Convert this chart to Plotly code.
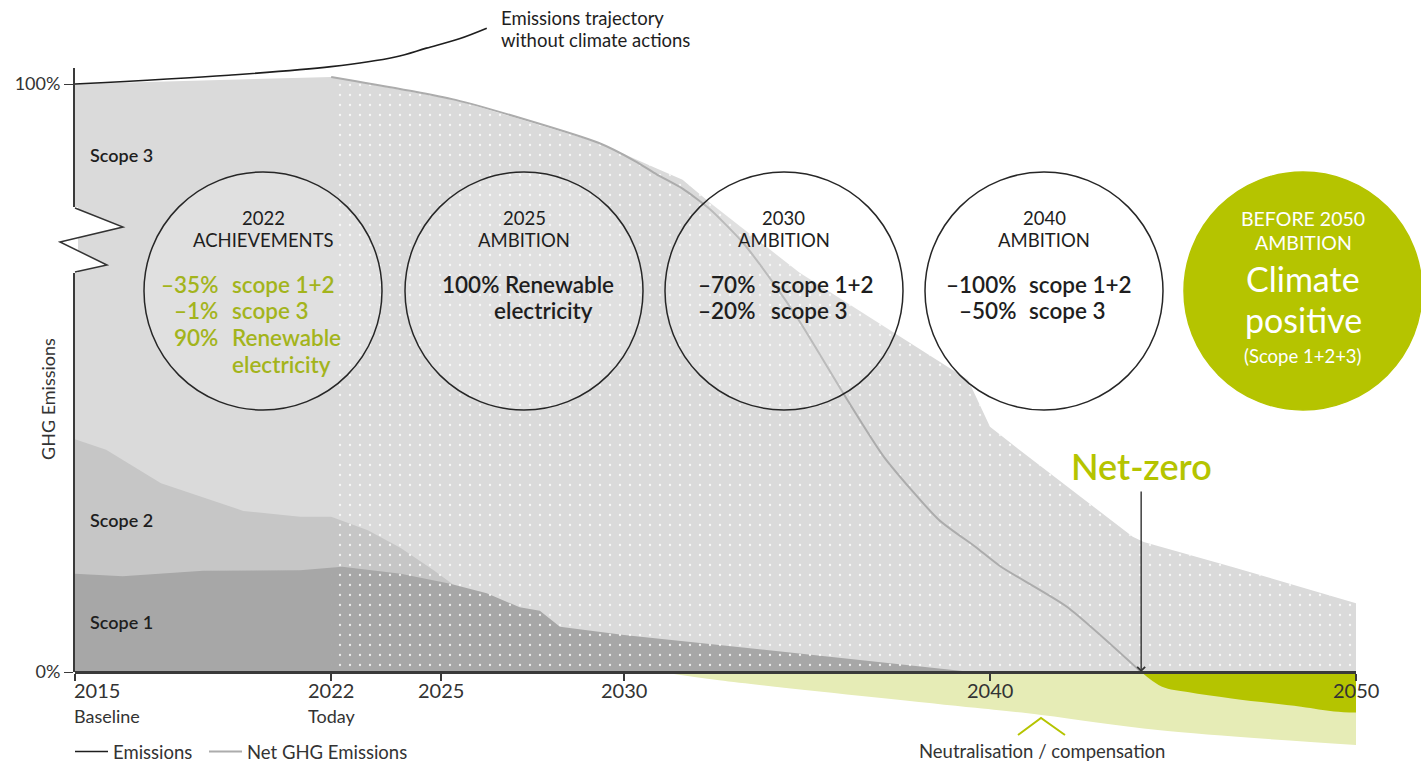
import plotly.graph_objects as go

# ---------------- data ----------------
# cumulative top of each band, % of the 2015 baseline
total_years = [2015, 2022, 2025.4, 2029.3, 2030.8, 2031.6, 2032.35, 2034.8, 2037.55, 2039.4, 2040.0, 2040.8, 2043.9, 2044.2, 2046.6, 2050]
total_vals = [100, 101.2, 97.3, 90.0, 85.9, 83.7, 79.8, 67.9, 57.0, 49.7, 41.7, 37.8, 23.0, 22.1, 17.9, 11.7]

scope12_years = [2015, 2015.85, 2017.35, 2019.6, 2021.15, 2022.0, 2023.0, 2023.9, 2024.8, 2025.3]
scope12_vals = [39.6, 37.8, 32.1, 27.4, 26.4, 26.4, 24.1, 21.1, 17.3, 15.0]

scope1_years = [2015, 2016.3, 2018.5, 2021.15, 2022.3, 2023.9, 2025.25, 2026.25, 2027.15, 2027.7, 2028.25, 2029.35, 2030.0, 2032.6, 2039.5]
scope1_vals = [16.7, 16.3, 17.2, 17.3, 17.9, 16.7, 15.0, 13.4, 11.0, 10.4, 7.7, 6.8, 6.3, 4.6, 0]

net_years = [2022, 2025.4, 2029.3, 2030.3, 2030.9, 2031.6, 2032.35, 2033.25, 2034.1, 2034.8, 2036.1, 2037.1, 2038.6, 2039.6, 2040.3, 2042.1, 2044.13]
net_vals = [101.2, 97.3, 90.0, 86.9, 84.6, 82.2, 78.7, 73.0, 66.0, 59.6, 46.3, 36.6, 25.9, 21.3, 17.9, 11.1, 0]

noaction_years = [2015, 2019.2, 2022.0, 2023.75, 2024.6, 2025.5, 2026.25]
noaction_vals = [100, 101.5, 102.95, 104.6, 106.1, 107.7, 109.5]

neutral_years = [2031.0, 2032.6, 2039.6, 2041.4, 2044.65, 2050]
neutral_vals = [0, -1.4, -6.1, -7.3, -9.9, -12.4]

positive_years = [2044.13, 2044.7, 2045.4, 2046.6, 2048.5, 2049.4, 2050]
positive_vals = [0, -2.5, -3.4, -4.5, -5.9, -6.7, -6.9]

tick_years = [2015, 2022, 2025, 2030, 2040, 2050]
tick_main = ["2015", "2022", "2025", "2030", "2040", "2050"]
tick_sub = ["Baseline", "Today", "", "", "", ""]
y_tick_vals = [0, 100]
y_tick_text = ["0%", "100%"]
netzero_year = 2044.13
pattern_from = 2022

# ---------------- layout geometry ----------------
W, H = 1421, 764
ML, MR, MT, MB = 75, 65, 0, 4
PW, PH = W - ML - MR, H - MT - MB
Y0_PX, Y100_PX = 672, 84
PPU = (Y0_PX - Y100_PX) / 100.0
Y_HI = (Y0_PX - MT) / PPU
Y_LO = -(MT + PH - Y0_PX) / PPU
AXIS_TOP_PX = 68


def fx(px):
    return (px - ML) / PW


def fy(py):
    return (MT + PH - py) / PH


FONT = "Lato, 'Open Sans', sans-serif"
C_S3, C_S2, C_S1 = "#dadada", "#c6c6c6", "#a7a7a7"
C_GREEN, C_LGREEN, C_OLIVE = "#b5c400", "#e6ecb6", "#a3b41c"
C_TXT = "#1e1e1e"
MED = 600

fig = go.Figure()

# stacked areas (each drawn from 0 to its cumulative top)
fig.add_trace(go.Scatter(x=total_years, y=total_vals, mode="lines", line=dict(width=0, color=C_S3),
                         fill="tozeroy", fillcolor=C_S3, showlegend=False, hoverinfo="skip"))
fig.add_trace(go.Scatter(x=scope12_years, y=scope12_vals, mode="lines", line=dict(width=0, color=C_S2),
                         fill="tozeroy", fillcolor=C_S2, showlegend=False, hoverinfo="skip"))
fig.add_trace(go.Scatter(x=scope1_years, y=scope1_vals, mode="lines", line=dict(width=0, color=C_S1),
                         fill="tozeroy", fillcolor=C_S1, showlegend=False, hoverinfo="skip"))

# dotted overlay for the projection period
pat_x = [y for y in total_years if y >= pattern_from]
pat_y = [v for y, v in zip(total_years, total_vals) if y >= pattern_from]
fig.add_trace(go.Scatter(x=pat_x, y=pat_y, mode="lines", line=dict(width=0),
                         fill="tozeroy", fillcolor="rgba(0,0,0,0)",
                         fillpattern=dict(shape=".", size=10, solidity=0.04, fgcolor="rgba(255,255,255,0.8)",
                                          bgcolor="rgba(0,0,0,0)", fillmode="replace"),
                         showlegend=False, hoverinfo="skip"))

# neutralisation / compensation
fig.add_trace(go.Scatter(x=neutral_years, y=neutral_vals, mode="lines", line=dict(width=0, shape="spline"),
                         fill="tozeroy", fillcolor=C_LGREEN, showlegend=False, hoverinfo="skip"))
fig.add_trace(go.Scatter(x=positive_years, y=positive_vals, mode="lines", line=dict(width=0, shape="spline"),
                         fill="tozeroy", fillcolor=C_GREEN, showlegend=False, hoverinfo="skip"))

# lines
fig.add_trace(go.Scatter(x=noaction_years, y=noaction_vals, mode="lines", name="Emissions",
                         line=dict(color=C_TXT, width=1.6, shape="spline"), hoverinfo="skip", legend="legend"))
fig.add_trace(go.Scatter(x=net_years, y=net_vals, mode="lines", name="Net GHG Emissions",
                         line=dict(color="#acacac", width=2, shape="spline", smoothing=0.6), hoverinfo="skip",
                         legend="legend2"))

# empty trace that makes the percentage axis (y2) exist
fig.add_trace(go.Scatter(x=[], y=[], yaxis="y2", showlegend=False, hoverinfo="skip"))

annotations = []


def txt(px, py, text, size, color=C_TXT, anchor="center", weight=None, **kw):
    f = dict(family=FONT, size=size, color=color)
    if weight:
        f["weight"] = weight
    annotations.append(dict(x=fx(px), y=fy(py), xref="paper", yref="paper", text=text, showarrow=False,
                            xanchor=anchor, yanchor="middle", font=f, **kw))


# x tick labels (data-positioned)
for yr, main, sub in zip(tick_years, tick_main, tick_sub):
    anchor = "left" if yr == tick_years[0] else "center"
    shift = -3 if yr == tick_years[0] else 0
    annotations.append(dict(x=yr, y=fy(690), xref="x", yref="paper", text=main, showarrow=False,
                            xanchor=anchor, yanchor="middle", xshift=shift,
                            font=dict(family=FONT, size=20, color="#333")))
    if sub:
        annotations.append(dict(x=yr, y=fy(716), xref="x", yref="paper", text=sub, showarrow=False,
                                xanchor=anchor, yanchor="middle", xshift=shift,
                                font=dict(family=FONT, size=18, color="#333")))

# scope labels, axis title
txt(88, 155, "Scope 3", 18, anchor="left", weight=MED)
txt(88, 520, "Scope 2", 18, anchor="left", weight=MED)
txt(88, 622, "Scope 1", 18, anchor="left", weight=MED)
txt(48, 399, "GHG Emissions", 18, color="#333", textangle=-90)
txt(499, 18, "Emissions trajectory", 18.5, anchor="left")
txt(499, 40, "without climate actions", 18.5, anchor="left")

# circles
CX = [263, 524, 784, 1044, 1303]
CY, R = 291, 119
shapes = []
for i, cx in enumerate(CX):
    last = i == len(CX) - 1
    shapes.append(dict(type="circle", xref="paper", yref="paper",
                       x0=fx(cx - R), x1=fx(cx + R), y0=fy(CY + R), y1=fy(CY - R),
                       line=dict(color=C_GREEN if last else "#262626", width=1.5),
                       fillcolor=C_GREEN if last else "rgba(255,255,255,0.18)", layer="above"))

HEAD = 18.5
BODY = 22.5
HY1, HY2 = 218, 240
# circle 1
txt(CX[0], HY1, "2022", HEAD)
txt(CX[0], HY2, "ACHIEVEMENTS", HEAD)
for yy, p, d in zip([284, 310, 337, 364], ["–35%", "–1%", "90%", ""], ["scope 1+2", "scope 3", "Renewable", "electricity"]):
    if p:
        txt(220, yy, p, BODY, color=C_OLIVE, anchor="right", weight=MED)
    txt(230, yy, d, BODY, color=C_OLIVE, anchor="left", weight=MED)
# circle 2
txt(CX[1], HY1, "2025", HEAD)
txt(CX[1], HY2, "AMBITION", HEAD)
txt(528, 284, "100% Renewable", BODY, weight=MED)
txt(543, 310, "electricity", BODY, weight=MED)
# circle 3
txt(CX[2], HY1, "2030", HEAD)
txt(CX[2], HY2, "AMBITION", HEAD)
for yy, p, d in zip([284, 310], ["–70%", "–20%"], ["scope 1+2", "scope 3"]):
    txt(757, yy, p, BODY, anchor="right", weight=MED)
    txt(769, yy, d, BODY, anchor="left", weight=MED)
# circle 4
txt(CX[3], HY1, "2040", HEAD)
txt(CX[3], HY2, "AMBITION", HEAD)
for yy, p, d in zip([284, 310], ["–100%", "–50%"], ["scope 1+2", "scope 3"]):
    txt(1018, yy, p, BODY, anchor="right", weight=MED)
    txt(1027, yy, d, BODY, anchor="left", weight=MED)
# circle 5
txt(CX[4], HY1, "BEFORE 2050", 19.5, color="white")
txt(CX[4], 242, "AMBITION", 19.5, color="white")
txt(CX[4], 278, "Climate", 34, color="white")
txt(CX[4], 319, "positive", 34, color="white")
txt(CX[4], 356, "(Scope 1+2+3)", 18.5, color="white")

# net zero
txt(1141, 466, "Net-zero", 36, color=C_GREEN, weight=MED)
annotations.append(dict(x=netzero_year, y=0, xref="x", yref="y", text="", showarrow=True,
                        ax=0, ay=-182, arrowhead=4, arrowsize=1.1, arrowwidth=1.4, arrowcolor="#333", standoff=0))
txt(1042, 751, "Neutralisation / compensation", 18.5, color="#333")
shapes.append(dict(type="path", xref="paper", yref="paper",
                   path=f"M{fx(1018)},{fy(735)} L{fx(1041)},{fy(718)} L{fx(1065)},{fy(735)}",
                   line=dict(color=C_GREEN, width=2), layer="above"))

# y-axis break (zigzag)
shapes.append(dict(type="rect", xref="paper", yref="paper", x0=fx(72), x1=fx(78), y0=fy(273), y1=fy(207),
                   line=dict(width=0), fillcolor="white", layer="above"))
shapes.append(dict(type="path", xref="paper", yref="paper",
                   path=f"M{fx(75)},{fy(208)} L{fx(123)},{fy(227)} L{fx(75)},{fy(238.4)} Z",
                   line=dict(width=0), fillcolor="white", layer="above"))
shapes.append(dict(type="path", xref="paper", yref="paper",
                   path=f"M{fx(75)},{fy(249)} L{fx(107)},{fy(265)} L{fx(75)},{fy(272)} Z",
                   line=dict(width=0), fillcolor="white", layer="above"))
shapes.append(dict(type="path", xref="paper", yref="paper",
                   path=f"M{fx(75)},{fy(208)} L{fx(123)},{fy(227)} L{fx(60)},{fy(242)} L{fx(107)},{fy(265)} L{fx(75)},{fy(272)}",
                   line=dict(color="#333", width=1.5), layer="above"))

LEG_FONT = dict(family=FONT, size=18.5, color="#333")
fig.update_layout(
    width=W, height=H, template="none",
    margin=dict(l=ML, r=MR, t=MT, b=MB, autoexpand=False),
    paper_bgcolor="white", plot_bgcolor="rgba(0,0,0,0)",
    font=dict(family=FONT, color=C_TXT),
    xaxis=dict(range=[2015, 2050], anchor="free", position=fy(Y0_PX), showline=True, linecolor="#3a3a3a",
               linewidth=2.5, ticks="outside", ticklen=7, tickwidth=1.5, tickcolor="#3a3a3a",
               tickvals=tick_years, showticklabels=False, showgrid=False, zeroline=False, fixedrange=True),
    yaxis=dict(range=[Y_LO, Y_HI], visible=False, showgrid=False, zeroline=False, fixedrange=True),
    yaxis2=dict(domain=[fy(Y0_PX), fy(AXIS_TOP_PX)], anchor="x", range=[0, (Y0_PX - AXIS_TOP_PX) / PPU],
                showline=True, linecolor="#3a3a3a", linewidth=2, ticks="outside", ticklen=9, tickwidth=1.3,
                tickcolor="#3a3a3a", tickvals=y_tick_vals, ticktext=y_tick_text,
                tickfont=dict(family=FONT, size=18, color="#333"), showgrid=False, zeroline=False, fixedrange=True),
    legend=dict(orientation="h", x=fx(70), y=fy(752), xanchor="left", yanchor="middle",
                font=LEG_FONT, bgcolor="rgba(0,0,0,0)", itemwidth=33),
    legend2=dict(orientation="h", x=fx(204), y=fy(752), xanchor="left", yanchor="middle",
                 font=LEG_FONT, bgcolor="rgba(0,0,0,0)", itemwidth=33),
    annotations=annotations, shapes=shapes,
)

fig.write_html("out.html")
